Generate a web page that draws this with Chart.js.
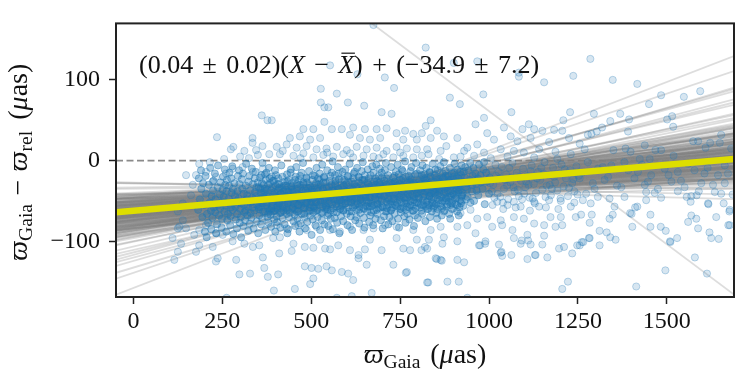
<!DOCTYPE html>
<html>
<head>
<meta charset="utf-8">
<script src="https://cdn.jsdelivr.net/npm/chart.js@4.4.1/dist/chart.umd.min.js"></script>
<style>
  body { margin: 0; background: #fff; }
  canvas { display: block; }
</style>
</head>
<body>
<canvas id="plxChart" width="750" height="375"></canvas>
<script>
// axis ticks
const xTicks = [0, 250, 500, 750, 1000, 1250, 1500];
const yTicks = [-100, 0, 100];

// best fit: slope, offset at mean parallax
const meanPlx = 716;
const bestSlope = 0.038;
const bestOffset = -34.9;

// posterior samples of the fit [slope, offset]
const fitSamples = [
  [0.038,-35],[0.042,-33],[0.031,-38],[0.047,-36],[0.035,-31],[0.040,-40],[0.028,-34],[0.052,-37],[0.036,-29],[0.044,-42],
  [0.033,-36],[0.039,-32],[0.025,-39],[0.049,-34],[0.041,-27],[0.030,-44],[0.055,-31],[0.037,-38],[0.046,-30],[0.022,-35],
  [0.043,-45],[0.034,-26],[0.058,-39],[0.027,-30],[0.040,-36],[0.051,-43],[0.019,-37],[0.045,-28],[0.032,-41],[0.062,-34],
  [0.036,-47],[0.048,-25],[0.024,-42],[0.039,-33],[0.054,-29],[0.029,-46],[0.041,-38],[0.016,-31],[0.057,-35],[0.035,-24],
  [0.044,-49],[0.026,-36],[0.065,-40],[0.033,-28],[0.047,-44],[0.020,-33],[0.038,-51],[0.053,-26],[0.030,-35],[0.068,-32],
  [0.042,-39],[0.013,-38],[0.050,-48],[0.037,-22],[0.023,-45],[0.060,-37],[0.034,-41],[0.046,-21],[0.028,-50],[0.071,-36],
  [0.040,-30],[0.018,-27],[0.056,-44],[0.032,-53],[0.049,-32],[0.010,-34],[0.043,-25],[0.036,-43],[0.063,-28],[0.025,-48],
  [0.045,-37],[0.030,-23],[0.074,-38],[0.039,-46],[0.021,-40],[0.052,-20],[0.035,-55],[0.059,-42],[0.027,-32],[0.048,-39],
  [0.007,-37],[0.041,-34],[0.066,-45],[0.033,-19],[0.044,-52],[0.015,-42],[0.054,-35],[0.037,-27],[0.078,-33],[0.024,-29],
  [0.047,-46],[0.031,-37],[0.061,-25],[0.004,-32],[0.040,-42],[0.050,-31],[0.029,-40],[0.069,-37],[0.038,-18],[0.012,-46],
  [0.046,-35],[0.035,-33],[0.057,-49],[0.026,-25],[0.043,-36],[0.072,-30],[0.032,-44],[0.017,-34],[0.053,-40],[0.039,-37],
  [0.037,-34],[0.043,-38],[0.032,-31],[0.048,-35],[0.034,-40],[0.041,-29],[0.027,-36],[0.051,-33],[0.036,-42],[0.045,-32],
  [0.030,-37],[0.039,-27],[0.024,-33],[0.050,-41],[0.042,-36],[0.031,-46],[0.056,-34],[0.038,-30],[0.046,-39],[0.021,-38],
  [0.044,-28],[0.033,-43],[0.059,-36],[0.028,-26],[0.040,-34],[0.052,-38],[0.018,-40],[0.047,-31],[0.035,-48],[0.063,-37],
  [0.036,-25],[0.049,-44],[0.023,-34],[0.040,-39],[0.055,-27],[0.029,-42],[0.042,-31],[0.015,-36],[0.058,-41],[0.034,-30],
  [0.045,-23],[0.026,-45],[0.067,-33],[0.032,-38],[0.048,-50],[0.019,-29],[0.039,-41],[0.054,-37],[0.029,-28],[0.070,-41],
  [0.041,-47],[0.011,-33],[0.051,-29],[0.037,-45],[0.024,-37],[0.061,-31],[0.033,-35],[0.047,-40],[0.027,-43],[0.073,-34],
  [0.039,-24],[0.017,-39],[0.057,-32],[0.031,-28],[0.050,-45],[0.009,-41],[0.044,-36],[0.035,-21],[0.064,-39],[0.026,-51],
  [0.046,-33],[0.029,-38],[0.075,-29],[0.038,-43],[0.022,-30],[0.053,-46],[0.036,-37],[0.060,-26],[0.028,-44],[0.049,-36],
  [0.006,-29],[0.042,-44],[0.068,-36],[0.034,-33],[0.043,-40],[0.014,-35],[0.055,-43],[0.038,-39],[0.079,-37],[0.025,-34],
  [0.170,-36],[0.148,-33],[0.132,-38],[0.126,-34],[0.120,-31],[0.116,-37],[0.110,-35],[0.104,-32],[0.100,-39],[0.093,-34],
  [0.089,-36],[0.085,-30],[0.083,-35],[0.081,-38],[0.077,-33],
  [-0.012,-36],[-0.008,-34],[-0.004,-31],
  [-0.33,155]
];

// stars in the dense part of the cloud [parallax, difference]
const coreStars = [
  [184,-22],[187,-48],[182,-61],[191,-35],[194,-70],[190,-12],[199,-55],[196,-28],[201,-88],
  [204,-41],[207,-66],[203,-19],[206,-95],[212,-30],[214,-52],[210,-77],[218,-62],[216,-9],[220,-44],[219,-85],
  [224,-37],[226,-58],[222,-71],[225,-25],[231,-48],[229,-16],[233,-90],[230,-64],[237,-33],[239,-55],[235,-79],[238,-6],
  [243,-42],[241,-68],[245,-27],[244,-59],[250,-51],[252,-20],[248,-83],[251,-36],[249,-72],[256,-63],[258,-30],[254,-45],[257,-11],
  [262,-38],[264,-74],[260,-56],[263,-24],[261,-88],[268,-47],[270,-15],[266,-66],[269,-31],[274,-58],[276,-40],[272,-80],[275,-22],[273,-69],
  [280,-35],[282,-52],[278,-7],[281,-91],[279,-61],[286,-44],[288,-73],[284,-28],[287,-57],[292,-66],[294,-19],[290,-50],[293,-38],[291,-84],
  [298,-29],[300,-60],[296,-47],[299,-77],[297,-12],[304,-53],[306,-35],[302,-70],[305,-23],[303,-95],[310,-41],[312,-64],[308,-16],[311,-55],[309,-81],
  [316,-31],[318,-48],[314,-74],[317,-4],[315,-62],[322,-57],[324,-26],[320,-43],[323,-87],[321,-68],[328,-37],[330,-65],[326,-19],[329,-52],[327,-78],
  [334,-46],[336,-29],[332,-71],[335,-58],[333,-10],[340,-62],[342,-39],[338,-84],[341,-22],[339,-50],[346,-33],[348,-55],[344,-14],[347,-75],[345,-44],
  [352,-49],[354,-68],[350,-27],[353,-60],[351,-90],[358,-40],[360,-18],[356,-57],[359,-79],[357,-35],[364,-53],[366,-30],[362,-72],[365,-45],[363,-3],
  [370,-63],[372,-24],[368,-48],[371,-86],[369,-38],[376,-36],[378,-59],[374,-15],[377,-70],[375,-52],[382,-45],[384,-28],[380,-77],[383,-61],[381,-9],
  [388,-56],[390,-34],[386,-67],[389,-20],[387,-82],[394,-42],[396,-73],[392,-51],[395,-25],[393,-63],[400,-31],[402,-58],[398,-12],[401,-47],[399,-88],[403,-69],
  [406,-50],[408,-37],[404,-76],[407,-22],[405,-60],[412,-65],[414,-41],[410,-29],[413,-83],[411,-54],[418,-34],[420,-57],[416,-6],[419,-71],[417,-46],
  [424,-48],[426,-26],[422,-62],[425,-79],[423,-38],[430,-59],[432,-17],[428,-44],[431,-66],[429,-31],[433,-90],[436,-39],[438,-70],[434,-53],[437,-24],[435,-85],
  [442,-52],[444,-33],[440,-64],[443,-11],[441,-47],[448,-43],[450,-75],[446,-28],[449,-58],[447,-36],[454,-61],[456,-20],[452,-49],[455,-81],[453,-67],
  [460,-35],[462,-55],[458,-8],[461,-72],[459,-41],[466,-47],[468,-30],[464,-63],[467,-88],[465,-24],[472,-56],[474,-38],[470,-78],[473,-15],[471,-51],
  [478,-29],[480,-66],[476,-44],[479,-59],[477,-3],[484,-53],[486,-21],[482,-70],[485,-37],[483,-84],[490,-40],[492,-62],[488,-27],[491,-49],[489,-76],
  [496,-58],[498,-33],[494,-13],[497,-68],[495,-45],[502,-36],[504,-73],[500,-51],[503,-24],[501,-92],[508,-46],[510,-19],[506,-64],[509,-31],[507,-57],
  [514,-62],[516,-41],[512,-80],[515,-9],[513,-52],[520,-30],[522,-55],[518,-70],[521,-38],[519,-22],[526,-49],[528,-65],[524,-16],[527,-43],[525,-86],
  [532,-57],[534,-27],[530,-74],[533,-35],[531,-5],[538,-41],[540,-60],[536,-20],[539,-50],[537,-79],[544,-34],[546,-68],[542,-46],[545,-12],[543,-58],
  [550,-53],[552,-25],[548,-81],[551,-39],[549,-66],[556,-44],[558,-15],[554,-62],[557,-30],[555,-72],[562,-59],[564,-37],[560,-1],[563,-48],[561,-85],
  [568,-28],[570,-54],[566,-71],[569,-42],[567,-18],[574,-50],[576,-35],[572,-64],[575,-8],[573,-77],[580,-39],[582,-60],[578,-23],[581,-46],[579,-90],
  [586,-56],[588,-14],[584,-69],[587,-33],[585,-51],[592,-31],[594,-47],[590,-75],[593,-24],[591,-61],[598,-45],[600,-66],[596,-11],[599,-38],[597,-53],
  [604,-58],[606,-27],[602,-80],[605,-42],[603,-19],[610,-35],[612,-52],[608,-4],[611,-69],[609,-45],[616,-49],[618,-22],[614,-63],[617,-36],[615,-86],
  [622,-40],[624,-74],[620,-16],[623,-55],[621,-29],[628,-61],[630,-33],[626,-46],[629,-9],[627,-70],[634,-27],[636,-57],[632,-40],[635,-78],[633,-20],
  [640,-52],[642,-13],[638,-65],[641,-37],[639,-48],[646,-43],[648,-71],[644,-24],[647,-59],[645,-2],[652,-34],[654,-56],[650,-83],[653,-45],[651,-18],
  [658,-63],[660,-29],[656,-50],[659,-11],[657,-39],[664,-46],[666,-68],[662,-22],[665,-57],[663,-76],[670,-38],[672,-7],[668,-53],[671,-31],[669,-64],
  [676,-55],[678,-26],[674,-80],[677,-44],[675,-15],[682,-30],[684,-61],[680,-41],[683,-5],[681,-72],[688,-49],[690,-19],[686,-66],[689,-35],[687,-54],
  [694,-42],[696,-74],[692,-27],[695,-58],[693,-10],[700,-57],[702,-33],[698,-48],[701,-84],[699,-21],[706,-25],[708,-63],[704,-44],[707,-12],[705,-69],
  [712,-51],[714,-37],[710,-3],[713,-59],[711,-30],[718,-40],[720,-70],[716,-18],[719,-49],[717,-79],[724,-62],[726,-28],[722,-54],[725,-8],[723,-36],
  [730,-33],[732,-47],[728,-75],[731,-21],[729,-58],[736,-55],[738,-14],[734,-66],[737,-39],[735,-26],[742,-44],[744,-72],[740,-31],[743,-5],[741,-52],
  [748,-29],[750,-60],[746,-17],[749,-48],[747,-83],[754,-52],[756,-38],[752,-64],[755,-11],[753,-24],[760,-36],[762,-69],[758,-22],[761,-46],[759,-58],
  [766,-61],[768,-30],[764,-1],[767,-53],[765,-77],[772,-41],[774,-19],[770,-57],[773,-35],[771,-66],[778,-27],[780,-50],[776,-73],[779,-13],[777,-44],
  [784,-56],[786,-34],[782,-8],[785,-62],[783,-23],[790,-45],[792,-68],[788,-28],[791,-52],[789,-81],[796,-32],[798,-16],[794,-59],[797,-40],[795,-3],
  [802,-53],[804,-25],[800,-71],[803,-46],[801,-36],[808,-38],[810,-62],[806,-12],[809,-55],[807,-29],[814,-49],[816,-21],[812,-66],[815,-33],[813,-6],
  [820,-28],[822,-57],[818,-42],[821,-75],[819,-17],[826,-60],[828,-36],[824,-9],[827,-50],[825,-24],[832,-44],[834,-70],[830,-30],[833,-14],[831,-55],
  [838,-33],[840,-52],[836,-20],[839,-63],[837,-41],[844,-57],[846,-27],[842,-4],[845,-46],[843,-37],[850,-39],[852,-65],[848,-18],[851,-54],[849,-11],
  [856,-48],[858,-31],[854,-72],[857,-23],[855,-60],[862,-26],[864,-53],[860,-40],[863,-7],[861,-35],[868,-59],[870,-16],[866,-45],[869,-30],[867,-68],
  [874,-35],[876,-50],[872,-22],[875,-62],[873,-2],[880,-47],[882,-28],[878,-13],[881,-57],[879,-40],[886,-24],[888,-66],[884,-37],[887,-51],[885,-19],
  [892,-55],[894,-32],[890,-9],[893,-44],[891,-72],[898,-41],[900,-20],[896,-60],[899,-29],[897,-50],[904,-30],[906,-54],[902,-15],[905,-38],[903,-4],
  [910,-63],[912,-26],[908,-46],[911,-11],[909,-35],[916,-37],[918,-49],[914,-22],[917,-58],[915,-68],[922,-18],[924,-43],[920,-31],[923,-6],[921,-53],
  [928,-56],[930,-27],[926,-40],[929,-14],[934,-33],[936,-48],[932,-21],[933,-8],[940,-45],[942,-12],[938,-36],[939,-28],
  [946,-24],[948,-52],[947,-3],[952,-38],[954,-19],[953,-30],[958,-50],[960,-26],[956,-9],[964,-29],[962,-16],[965,-37],
  [970,-43],[972,-5],[969,-22],[976,-18],[977,-27],[982,-35],[984,-11],[988,-54],[986,-2],[994,-26],[992,-15],[1000,-41],[1002,-21],
  // centre of the cloud
  [352,-33],[352,-58],[356,-21],[356,-47],[361,-52],[361,-28],[365,-40],[365,-63],[370,-17],[370,-35],[374,-55],[374,-44],[379,-30],[379,-66],
  [383,-48],[383,-22],[388,-37],[388,-60],[392,-25],[392,-51],[397,-62],[397,-39],[401,-45],[401,-18],[406,-29],[406,-56],[410,-53],[410,-34],
  [415,-41],[415,-64],[419,-20],[419,-48],[424,-57],[424,-31],[428,-36],[428,-45],[433,-26],[433,-61],[437,-50],[437,-39],[442,-43],[442,-15],
  [446,-59],[446,-32],[451,-38],[451,-53],[455,-24],[455,-46],[460,-63],[460,-29],[464,-42],[464,-55],[469,-33],[469,-19],[473,-49],[473,-66],
  [478,-37],[478,-27],[482,-58],[482,-44],[487,-22],[487,-52],[491,-46],[491,-34],[496,-31],[496,-62],[500,-55],[500,-40],[505,-18],[505,-47],
  [509,-39],[509,-59],[514,-28],[514,-51],[518,-61],[518,-35],[523,-44],[523,-24],[527,-52],[527,-30],[532,-36],[532,-65],[536,-47],[536,-21],
  [541,-27],[541,-56],[545,-60],[545,-41],[550,-33],[550,-50],[554,-19],[554,-45],[559,-54],[559,-37],[563,-41],[563,-64],[568,-30],[568,-25],
  [572,-57],[572,-48],[577,-35],[577,-16],[581,-49],[581,-60],[586,-23],[586,-42],[590,-62],[590,-32],[595,-44],[595,-53],[599,-29],[599,-38],
  [604,-51],[604,-20],[608,-40],[608,-63],[613,-26],[613,-47],[617,-58],[617,-35],[622,-45],[622,-14],[626,-32],[626,-55],[631,-53],[631,-42],
  [635,-21],[635,-61],[640,-48],[640,-29],[644,-36],[644,-50],[649,-60],[649,-24],[653,-43],[653,-39],[658,-27],[658,-57],[662,-52],[662,-33],
  [667,-18],[667,-46],[671,-56],[671,-38],[676,-34],[676,-62],[680,-47],[680,-22],[685,-25],[685,-53],[689,-59],[689,-41],[694,-38],[694,-30],
  [698,-50],[698,-15],[703,-31],[703,-58],[707,-44],[707,-36],[712,-22],[712,-63],[716,-54],[716,-46],[721,-40],[721,-27],[725,-61],[725,-51],
  [730,-29],[730,-42],[734,-48],[734,-19],[739,-35],[739,-56],[743,-57],[743,-33],[748,-24],[748,-45],[752,-43],[752,-60],[757,-32],[757,-13],
  [761,-52],[761,-39],[766,-20],[766,-49],[770,-46],[770,-28],[775,-37],[775,-58],[779,-55],[779,-23],[784,-30],[784,-43],[788,-49],[788,-62],
  [793,-17],[793,-36],[797,-41],[797,-52],[802,-27],[802,-47],[806,-58],[806,-31],[811,-34],[811,-18],[815,-45],[815,-55],[820,-23],[820,-38],
  [824,-51],[824,-29],[829,-39],[829,-60],[833,-15],[833,-44],[838,-48],[838,-26],[842,-31],[842,-53],[847,-56],[847,-40],[851,-21],[851,-35],
  [856,-43],[856,-12],[860,-36],[860,-49],[865,-28],[865,-57],[869,-50],[869,-21],[874,-40],[874,-31],[878,-19],[878,-46],[883,-33],[883,-54],
  [887,-45],[887,-27],[892,-24],[892,-38],[896,-53],[896,-16],[901,-30],[901,-42],[905,-47],[905,-25],[910,-20],[910,-55],[914,-39],[914,-33],
  [919,-28],[919,-14],[923,-44],[923,-50]
];

// stars around the dense part [parallax, difference]
const outerStars = [
  [361,56],[377,50],[235,29],[274,14],[281,17],[312,12],[335,22],[345,13],[335,28],[363,18],[382,8],[300,5],[325,3],[350,7],[255,2],[215,-2],
  [675,168],[553,118],[630,107],[707,103],[733,90],[527,89],[572,83],[527,72],[537,66],[548,66],[603,72],[649,68],[698,60],[726,58],[389,50],[537,48],
  [478,39],[506,39],[558,39],[586,39],[618,41],[651,39],[684,39],[712,40],[740,34],[764,37],[787,33],[811,34],[440,28],[468,30],[497,26],[525,28],
  [609,32],[637,28],[665,26],[694,28],[759,26],[797,26],[403,17],[431,20],[459,16],[487,18],[515,14],[543,15],[572,17],[600,13],[628,17],[656,14],
  [684,16],[712,12],[740,17],[769,15],[797,14],[412,8],[450,6],[478,9],[506,4],[534,7],[562,5],[590,8],[618,4],[647,6],[675,5],[703,8],[731,4],
  [759,6],[787,4],[811,6],[420,12],[470,3],[545,10],[610,9],[690,3],[750,10],[830,8],[860,2],[880,18],[920,5],
  [822,140],[901,121],[967,123],[1084,109],[1084,104],[1155,97],[1237,105],[890,78],[918,70],[984,82],[1063,60],[986,53],[836,50],[822,43],[854,37],
  [962,45],[995,34],[1042,41],[1094,39],[1112,45],[1127,39],[1150,37],[1183,38],[1206,37],[1209,50],[1228,60],[836,28],[873,30],[911,28],[939,16],
  [967,20],[1014,26],[1061,30],[1080,24],[1117,28],[1169,23],[1225,28],[826,14],[864,12],[930,12],[986,10],[1033,14],[1070,12],[1098,10],[1141,14],
  [1187,11],[1230,8],[901,4],[958,6],[1005,3],[1052,5],[1127,4],[1192,2],
  [1285,126],[1348,100],[1417,95],[1484,81],[1450,70],[1548,79],[1594,86],[1295,58],[1369,58],[1341,49],[1394,51],[1501,51],[1515,55],[1518,42],
  [1391,36],[1318,41],[1303,36],[1288,33],[1278,32],[1574,24],[1588,24],[1622,22],[1649,22],[1653,32],[1609,16],[1438,19],[1350,13],[1384,15],
  [1398,11],[1468,13],[1484,13],[1519,6],[1255,21],[1269,14],[1681,15],[1424,2],[1452,2],
  [185,-4],[148,-18],[176,-18],[204,-14],[232,-20],[260,-16],[279,-10],[307,-8],[336,-14],[364,-10],[223,-26],[167,-30],[162,-43],[139,-53],
  [125,-63],[139,-74],[125,-84],[110,-96],[134,-103],[125,-113],[115,-123],[176,-113],[185,-105],[223,-107],[232,-125],[237,-121],[289,-123],
  [298,-141],[328,-140],[364,-120],[368,-133],[378,-144],[171,-92],[251,-92],[279,-100],[312,-103],[336,-107],[354,-105],[185,-86],[204,-80],
  [232,-90],[148,-84],[129,-82],[262,-170],
  [403,-80],[431,-84],[464,-80],[487,-86],[515,-82],[553,-86],[581,-88],[609,-82],[647,-86],[675,-84],[708,-80],[740,-82],[787,-86],[393,-96],
  [412,-95],[450,-103],[482,-107],[506,-108],[525,-98],[539,-109],[553,-110],[576,-105],[609,-111],[633,-117],[651,-110],[665,-98],[698,-111],
  [740,-96],[759,-109],[778,-111],[797,-98],[410,-115],[445,-112],[482,-131],[501,-133],[520,-134],[543,-131],[558,-136],[586,-138],[604,-140],
  [618,-148],[506,-146],[497,-153],[407,-141],[454,-159],[395,-161],[572,-170],[614,-168],[670,-164],[731,-129],[769,-138],[656,-129],[633,-121],
  [826,-55],[845,-59],[873,-63],[901,-59],[920,-65],[948,-61],[967,-72],[995,-70],[1023,-51],[1052,-55],[1070,-51],[1089,-57],[1127,-51],[1141,-57],
  [1169,-49],[1202,-50],[1230,-57],[1244,-70],[1173,-70],[1202,-70],[1206,-80],[1187,-82],[1155,-80],[1127,-78],[1098,-72],[1070,-70],[1037,-80],
  [1033,-74],[1009,-82],[939,-80],[911,-82],[864,-82],[836,-86],[826,-109],[831,-98],[869,-103],[873,-95],[911,-100],[962,-90],[990,-100],[972,-105],
  [1028,-104],[1033,-114],[1037,-118],[1066,-86],[1070,-96],[1089,-103],[1108,-92],[1117,-104],[1131,-117],[1150,-104],[1155,-93],[1197,-109],
  [1211,-107],[1234,-115],[1248,-105],[1063,-117],[850,-121],[864,-123],[911,-123],[930,-126],[1108,-122],[1164,-120],[826,-151],[883,-150],
  [915,-150],[939,-170],[1206,-159],[1222,-150],
  [1259,-67],[1283,-77],[1289,-67],[1286,-53],[1264,-49],[1311,-87],[1283,-96],[1261,-101],[1255,-105],[1311,-105],[1339,-72],[1348,-67],[1353,-57],
  [1339,-47],[1341,-95],[1356,-98],[1397,-65],[1403,-82],[1417,-57],[1442,-49],[1454,-67],[1454,-82],[1483,-82],[1497,-87],[1510,-101],[1529,-96],
  [1484,-46],[1560,-76],[1569,-68],[1583,-72],[1588,-84],[1567,-51],[1616,-53],[1620,-89],[1625,-96],[1646,-97],[1639,-70],[1660,-53],[1677,-80],
  [1677,-61],[1579,-120],[1496,-136],[1613,-140],[1414,-156],[1306,-45],[1381,-45],[1442,-39],[1531,-38],[1569,-44],[1635,-39],[1653,-41],[1273,-41],
  [1278,-2],[1306,-10],[1344,-6],[1381,-2],[1419,-14],[1456,-18],[1494,-10],[1531,-14],[1578,-12],[1606,-16],[1644,-18],[1663,-6],[1255,-22],
  [1292,-28],[1325,-24],[1372,-33],[1409,-22],[1438,-30],[1475,-35],[1513,-26],[1550,-33],[1597,-28],[1663,-28],
  [766,-139],[829,-151],[853,-122],[867,-124],[1035,-113],[1129,-117],[1265,-101],[1281,-96],[1331,-89],[1401,-66],[1411,-58],[1509,-100],
  [1556,-45],[1584,-43],[1617,-54],[1673,-80],[1676,-63],[1092,-99],[1110,-99],[975,-105],[989,-103],[820,-107],[810,-111],
  [1006,-12],[1012,-30],[1018,-5],[1024,-41],[1030,-22],[1036,-8],[1042,-35],[1048,-17],[1054,-48],[1060,-27],[1066,-3],[1072,-38],[1078,-15],
  [1084,-44],[1090,-25],[1096,-10],[1102,-33],[1108,-19],[1114,-46],[1120,-6],[1126,-29],[1132,-40],[1138,-14],[1144,-24],[1150,-36],[1156,-2],
  [1162,-31],[1168,-18],[1174,-43],[1180,-9],[1186,-27],[1192,-37],[1198,-16],[1204,-5],[1210,-32],[1216,-22],[1222,-44],[1228,-12],[1234,-28],
  [1240,-38],[1246,-7],[1252,-19],[1010,-55],[1040,-60],[1075,-58],[1115,-62],[1160,-58],[1195,-60],[1240,-52],
  [1003,-28],[1015,-46],[1027,-14],[1039,-52],[1051,-31],[1063,-21],[1081,-36],[1093,-48],[1105,-26],[1117,-13],[1129,-53],[1147,-9],[1159,-45],
  [1171,-30],[1183,-20],[1201,-47],[1213,-11],[1225,-34],[1237,-23],[1249,-42],
  [1008,-38],[1020,-19],[1032,-45],[1045,-24],[1057,-9],[1069,-33],[1086,-20],[1099,-41],[1111,-30],[1123,-47],[1135,-22],[1153,-16],[1177,-35],
  [1262,-15],[1297,-35],[1320,-8],[1335,-20],[1360,-31],[1392,-12],[1430,-5],[1447,-26],[1466,-40],[1505,-18],[1540,-25],[1560,-4],[1590,-38],
  [1615,-9],[1630,-30],[1672,-16],[1685,-42]
];

const xMin = -49, xMax = 1689;
const yMin = -169, yMax = 170;

const serif = '"Liberation Serif", "DejaVu Serif", serif';
const blue = a => `rgba(31,119,180,${a})`;
const minus = v => String(v).replace('-', '\u2212');
const toPts = arr => arr.map(([x, y]) => ({ x, y }));
const lineAt = (slope, offset) => [xMin, xMax].map(x => ({ x, y: offset + slope * (x - meanPlx) }));

// draws a run of text pieces: strings, {t, it, sub, bar} or numbers (gap in em)
function textRun(ctx, parts, x, y, size, draw) {
  for (const p of parts) {
    if (typeof p === 'number') { x += p * size; continue; }
    const q = typeof p === 'string' ? { t: p } : p;
    const fs = q.sub ? size * 0.7 : size;
    ctx.font = `${q.it ? 'italic ' : ''}${fs}px ${serif}`;
    const w = ctx.measureText(q.t).width;
    const yy = y + (q.sub ? size * 0.18 : 0);
    if (draw) {
      ctx.fillText(q.t, x, yy);
      if (q.bar) ctx.fillRect(x + w * 0.2, yy - size * 0.8, w * 0.85, Math.max(1, size * 0.045));
    }
    x += w;
  }
  return x;
}

const textPlugin = {
  id: 'texts',
  afterDraw(chart) {
    const ctx = chart.ctx;
    const a = chart.chartArea;
    ctx.save();
    // frame
    ctx.strokeStyle = '#222';
    ctx.lineWidth = 2;
    ctx.strokeRect(a.left, a.top, a.right - a.left, a.bottom - a.top);

    ctx.fillStyle = '#111';
    ctx.textBaseline = 'alphabetic';
    ctx.textAlign = 'left';

    const fitText = ['(0.04', 0.36, '\u00b1', 0.36, '0.02)(', { t: 'X', it: true }, 0.36, '\u2212', 0.36,
      { t: 'X', it: true, bar: true }, ')', 0.36, '+', 0.36, '(\u221234.9', 0.36, '\u00b1', 0.36, '7.2)'];
    textRun(ctx, fitText, a.left + 23, a.top + 50, 26, true);

    const xTitle = [{ t: '\u03d6', it: true }, { t: 'Gaia', sub: true }, 0.35, '(', { t: '\u03bc', it: true }, 'as)'];
    const xw = textRun(ctx, xTitle, 0, 0, 28, false);
    textRun(ctx, xTitle, (a.left + a.right) / 2 - xw / 2, 363, 28, true);

    const yTitle = [{ t: '\u03d6', it: true }, { t: 'Gaia', sub: true }, 0.3, '\u2212', 0.3,
      { t: '\u03d6', it: true }, { t: 'rel', sub: true }, 0.4, '(', { t: '\u03bc', it: true }, 'as)'];
    const yw = textRun(ctx, yTitle, 0, 0, 28, false);
    ctx.translate(27, (a.top + a.bottom) / 2 + 2);
    ctx.rotate(-Math.PI / 2);
    textRun(ctx, yTitle, -yw / 2, 0, 28, true);
    ctx.restore();
  }
};

const datasets = [];
datasets.push({
  data: [{ x: xMin, y: 0 }, { x: xMax, y: 0 }],
  showLine: true, pointRadius: 0, borderColor: '#8a8a8a', borderWidth: 1.6, borderDash: [7, 3.5], order: 10
});
fitSamples.forEach(([s, o]) => datasets.push({
  data: lineAt(s, o), showLine: true, pointRadius: 0,
  borderColor: 'rgba(128,128,128,0.27)', borderWidth: 1.8, order: 9
}));
datasets.push({
  data: toPts(outerStars), pointRadius: 3.6, pointBorderWidth: 1,
  backgroundColor: blue(0.18), borderColor: blue(0.28), order: 8
});
datasets.push({
  data: toPts(coreStars), pointRadius: 3.6, pointBorderWidth: 1,
  backgroundColor: blue(0.38), borderColor: blue(0.4), order: 7
});
datasets.push({
  data: lineAt(bestSlope, bestOffset), showLine: true, pointRadius: 0,
  borderColor: '#dede00', borderWidth: 6.5, order: 1
});

const tickFont = { family: serif, size: 24 };
const tickGrid = { drawOnChartArea: false, drawTicks: true, tickLength: 7, tickWidth: 1.5, tickColor: '#222' };

new Chart(document.getElementById('plxChart'), {
  type: 'scatter',
  data: { datasets },
  options: {
    responsive: false,
    animation: false,
    events: [],
    layout: { padding: { top: 22, right: 16, left: 0, bottom: 0 } },
    plugins: { legend: { display: false }, tooltip: { enabled: false } },
    scales: {
      x: {
        type: 'linear', min: xMin, max: xMax,
        afterBuildTicks: s => { s.ticks = xTicks.map(v => ({ value: v })); },
        afterFit: s => { s.height = 78; },
        ticks: { font: tickFont, color: '#111', padding: 3, maxRotation: 0, autoSkip: false, callback: minus },
        grid: tickGrid,
        border: { display: false }
      },
      y: {
        type: 'linear', min: yMin, max: yMax,
        afterBuildTicks: s => { s.ticks = yTicks.map(v => ({ value: v })); },
        afterFit: s => { s.width = 116; },
        ticks: { font: tickFont, color: '#111', padding: 9, autoSkip: false, callback: minus },
        grid: tickGrid,
        border: { display: false }
      }
    }
  },
  plugins: [textPlugin]
});
</script>
</body>
</html>
